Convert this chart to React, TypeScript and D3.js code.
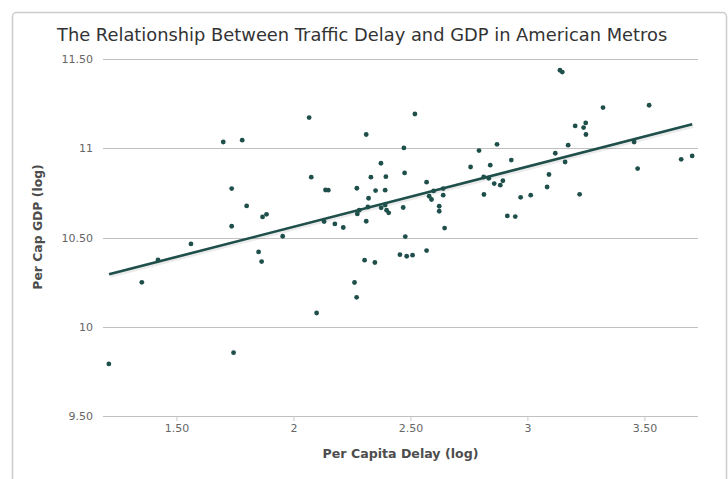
import React from "react";
import * as d3 from "d3";

const title = "The Relationship Between Traffic Delay and GDP in American Metros";
const xAxisTitle = "Per Capita Delay (log)";
const yAxisTitle = "Per Cap GDP (log)";

const delay = [
  1.698, 1.779, 1.734, 1.798, 1.734, 1.866, 1.883, 1.952, 1.56, 1.419, 1.849, 1.862, 1.35, 1.209, 1.742,
  2.065, 2.517, 2.309, 2.47, 2.791, 2.868, 2.372, 2.755, 2.839, 2.074, 2.329, 2.393, 2.473, 2.567, 2.811,
  2.833, 2.856, 2.882, 2.135, 2.147, 2.269, 2.349, 2.39, 2.319, 2.597, 2.638, 2.578, 2.588, 2.638, 2.812,
  2.316, 2.279, 2.271, 2.373, 2.39, 2.396, 2.405, 2.467, 2.621, 2.621, 2.129, 2.175, 2.211, 2.309, 2.644,
  2.476, 2.453, 2.482, 2.507, 2.567, 2.302, 2.346, 2.259, 2.268, 2.097, 3.137, 3.147, 3.321, 3.518, 3.202,
  3.247, 3.238, 3.248, 3.172, 3.454, 3.117, 2.929, 3.159, 3.655, 3.702, 3.469, 2.893, 3.09, 2.969, 3.012,
  3.221, 2.912, 2.946, 3.082,
];
const gdp = [
  11.035, 11.045, 10.774, 10.677, 10.563, 10.615, 10.63, 10.507, 10.464, 10.374, 10.419, 10.365, 10.249, 9.792, 9.855,
  11.172, 11.192, 11.077, 11.002, 10.987, 11.022, 10.916, 10.895, 10.905, 10.838, 10.838, 10.841, 10.862, 10.81, 10.839,
  10.832, 10.802, 10.793, 10.766, 10.765, 10.776, 10.763, 10.765, 10.72, 10.761, 10.774, 10.731, 10.713, 10.737, 10.741,
  10.671, 10.653, 10.632, 10.666, 10.682, 10.653, 10.638, 10.668, 10.675, 10.647, 10.589, 10.576, 10.556, 10.591, 10.553,
  10.505, 10.404, 10.395, 10.401, 10.427, 10.373, 10.36, 10.248, 10.165, 10.077, 11.437, 11.427, 11.228, 11.241, 11.125,
  11.142, 11.116, 11.077, 11.017, 11.035, 10.972, 10.934, 10.923, 10.938, 10.957, 10.886, 10.818, 10.853, 10.725, 10.737,
  10.742, 10.621, 10.617, 10.783,
];
const trendDelay = [1.21, 3.702];
const trendGdp = [10.294, 11.134];

const xTicks = [1.5, 2, 2.5, 3, 3.5];
const xTickLabels = ["1.50", "2", "2.50", "3", "3.50"];
const yTicks = [9.5, 10, 10.5, 11, 11.5];
const yTickLabels = ["9.50", "10", "10.50", "11", "11.50"];

const W = 728;
const H = 479;
const plot = { left: 103, right: 698, top: 59, bottom: 416 };

export default function App() {
  const [dMin, dMax] = d3.extent(delay) as [number, number];
  const pad = (dMax - dMin) * 0.01;
  const x = d3.scaleLinear().domain([dMin - pad, dMax + pad]).range([plot.left, plot.right]);
  const y = d3.scaleLinear().domain([9.5, 11.5]).range([plot.bottom, plot.top]);
  const line = d3
    .line<number>()
    .x((_, i) => x(trendDelay[i]))
    .y((d) => y(d));
  const font = "'DejaVu Sans', 'Lucida Grande', sans-serif";
  const pts = delay.map((d, i) => [d, gdp[i]]);
  return (
    <svg
      width={W}
      height={H}
      style={{ position: "absolute", left: 0, top: 0, background: "#fff" }}
      fontFamily={font}
    >
      <rect x={12.5} y={12.5} width={714} height={H} rx={4} fill="#fff" stroke="#cccccc" strokeWidth={1.5} />
      <text x={57} y={41} fontSize={17.85} fill="#333">
        {title}
      </text>
      {yTicks.map((t, i) => (
        <g key={"y" + i}>
          <line x1={plot.left} x2={plot.right} y1={Math.round(y(t)) + 0.5} y2={Math.round(y(t)) + 0.5} stroke="#c0c0c0" strokeWidth={1} />
          <text x={93} y={y(t) + 4} fontSize={11} fill="#666" textAnchor="end">
            {yTickLabels[i]}
          </text>
        </g>
      ))}
      {xTicks.map((t, i) => (
        <g key={"x" + i}>
          <line x1={x(t)} x2={x(t)} y1={plot.bottom} y2={plot.bottom + 5} stroke="#c8c8c8" strokeWidth={1} />
          <text x={x(t)} y={432} fontSize={11} fill="#666" textAnchor="middle">
            {xTickLabels[i]}
          </text>
        </g>
      ))}
      <text x={(plot.left + plot.right) / 2} y={458} fontSize={12.6} fontWeight="bold" fill="#4d4d4d" textAnchor="middle">
        {xAxisTitle}
      </text>
      <text
        transform={`translate(42, 227) rotate(-90)`}
        fontSize={12.4}
        fontWeight="bold"
        fill="#4d4d4d"
        textAnchor="middle"
      >
        {yAxisTitle}
      </text>
      <path d={line(trendGdp) || ""} fill="none" stroke="rgba(0,0,0,0.08)" strokeWidth={5} transform="translate(1,1)" />
      <path d={line(trendGdp) || ""} fill="none" stroke="#1e4f4b" strokeWidth={2.6} />
      {pts.map((p, i) => (
        <circle key={i} cx={x(p[0])} cy={y(p[1])} r={2.4} fill="#1f4f4b" />
      ))}
    </svg>
  );
}
